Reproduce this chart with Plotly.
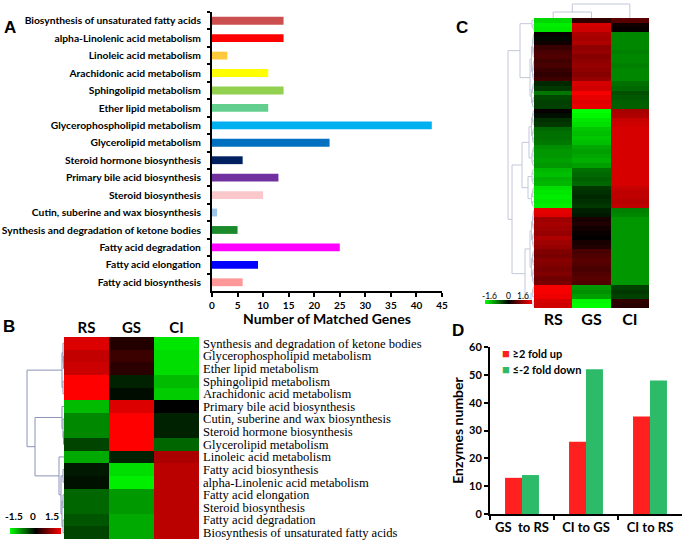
import plotly.graph_objects as go

W, H = 685, 543

# ---- panel A: matched genes per pathway (top to bottom)
a_pathways = [
    "Biosynthesis of unsaturated fatty acids", "alpha-Linolenic acid metabolism",
    "Linoleic acid metabolism", "Arachidonic acid metabolism", "Sphingolipid metabolism",
    "Ether lipid metabolism", "Glycerophospholipid metabolism", "Glycerolipid metabolism",
    "Steroid hormone biosynthesis", "Primary bile acid biosynthesis", "Steroid biosynthesis",
    "Cutin, suberine and wax biosynthesis", "Synthesis and degradation of ketone bodies",
    "Fatty acid degradation", "Fatty acid elongation", "Fatty acid biosynthesis",
]
a_genes = [14, 14, 3, 11, 14, 11, 43, 23, 6, 13, 10, 1, 5, 25, 9, 6]
a_colors = ["#CC4F4F", "#FF0000", "#FFC93C", "#FFFF00", "#92D050", "#62CF8E", "#00B0F0",
            "#0070C0", "#002060", "#7030A0", "#FAC8CB", "#9DC3E6", "#1A8A2A", "#FF00FF",
            "#0000FF", "#FF9999"]

# ---- panel B: pathway heatmap (RS, GS, CI)
b_pathways = [
    "Synthesis and degradation of ketone bodies", "Glycerophospholipid metabolism",
    "Ether lipid metabolism", "Sphingolipid metabolism", "Arachidonic acid metabolism",
    "Primary bile acid biosynthesis", "Cutin, suberine and wax biosynthesis",
    "Steroid hormone biosynthesis", "Glycerolipid metabolism", "Linoleic acid metabolism",
    "Fatty acid biosynthesis", "alpha-Linolenic acid metabolism", "Fatty acid elongation",
    "Steroid biosynthesis", "Fatty acid degradation", "Biosynthesis of unsaturated fatty acids",
]
samples = ["RS", "GS", "CI"]
b_rs = [1.3, 1.15, 1.2, 1.5, 1.5, -1.1, -0.8, -0.8, -0.4, -1.0, -0.15, -0.1, -0.6, -0.6, -0.5, -0.4]
b_gs = [0.2, 0.35, 0.25, -0.2, -0.07, 1.3, 1.5, 1.5, 1.5, -0.2, -1.3, -1.4, -0.9, -0.9, -1.0, -1.0]
b_ci = [-1.35, -1.3, -1.3, -1.1, -1.2, 0.0, -0.2, -0.2, -0.6, 1.0, 1.1, 1.1, 1.1, 1.1, 1.1, 1.1]
# dendrogram as nested [height, left, right], leaves are row indices
b_tree = [37, [2, [1, 0, [0.5, 1, 2]], [1, 3, 4]],
          [29, [2, 5, [1, 6, [0.5, 7, 8]]],
           [5, 9, [3, [1, 10, 11], [2, [1, 12, 13], [1, 14, 15]]]]]]

# ---- panel C: enzyme heatmap (64 rows)
c_rs = [-1.35, -1.5, -1.45, 0.05, -0.05, 0.1, 0.35, 0.45, 0.5, 0.4, 0.45, 0.35, 0.3, 0.4,
        -0.25, -0.35, -0.75, -0.45, -0.4, -0.4, 0.05, -0.1, -0.3, -0.35, -0.65, -0.7, -0.7,
        -0.75, -0.9, -0.95, -0.95, -1.0, -0.95, -1.15, -1.2, -1.1, -1.15, -1.4, -1.45, -1.5,
        -1.45, -1.5, 1.45, 1.4, 1.0, 1.05, 1.0, 0.95, 1.1, 1.0, 0.95, 0.8, 0.75, 0.85, 0.8,
        0.75, 0.8, 0.7, 0.75, 1.55, 1.55, 1.5, 1.35, 1.3]
c_gs = [0.3, 1.35, 1.3, 1.1, 1.05, 1.1, 0.9, 0.95, 0.85, 0.9, 0.95, 0.9, 0.85, 0.95, 1.35,
        1.3, 1.55, 1.45, 1.4, 1.45, -1.6, -1.55, -1.45, -1.4, -1.25, -1.2, -1.25, -1.2,
        -1.05, -1.0, -1.05, -1.1, -1.0, -0.7, -0.65, -0.6, -0.65, -0.35, -0.3, -0.25, -0.3,
        -0.35, -0.2, -0.15, 0.15, 0.2, 0.1, 0.05, 0.0, 0.15, 0.2, 0.45, 0.5, 0.55, 0.5,
        0.45, 0.5, 0.55, 0.5, -0.95, -0.9, -1.0, -1.55, -1.6]
c_ci = [0.55, 0.1, 0.05, -0.85, -0.85, -0.85, -0.85, -0.8, -0.85, -0.85, -0.8, -0.85,
        -0.85, -0.85, -0.7, -0.65, -0.5, -0.55, -0.6, -0.6, 1.05, 1.1, 1.25, 1.3, 1.35,
        1.35, 1.35, 1.35, 1.35, 1.35, 1.35, 1.35, 1.35, 1.35, 1.35, 1.35, 1.35, 1.25, 1.2,
        1.2, 1.15, 1.2, -0.8, -0.85, -0.95, -0.95, -0.95, -0.95, -0.95, -0.95, -0.95,
        -0.95, -0.95, -0.95, -0.95, -0.95, -0.95, -0.95, -0.95, -0.4, -0.35, -0.4, 0.3, 0.25]


def block(lo, hi, h):
    if lo == hi:
        return lo
    mid = (lo + hi) // 2
    return [h, block(lo, mid, h * 0.6), block(mid + 1, hi, h * 0.6)]


c_tree = [26,
          [14, [2, 0, [1, 1, 2]], [4, block(3, 13, 2.5), block(14, 19, 2.5)]],
          [22,
           [12, [5, block(20, 27, 2.5), block(28, 32, 2)], [6, block(33, 36, 2), block(37, 41, 2.5)]],
           [9, [4, block(42, 50, 2.5), block(51, 58, 2.5)], [3, block(59, 61, 1.5), block(62, 63, 1)]]]]
c_col_tree = [14, [6, 0, 1], 2]

# ---- panel D
d_groups = ["GS\u00a0 to RS", "CI to GS", "CI to RS"]
d_up = [13, 26, 35]
d_down = [14, 52, 48]
d_names = ["\u22652 fold up", "\u2264-2 fold down"]
d_colors = ["#FF2020", "#2DBB6A"]


def dendro(tree):
    pos, hts = [], []

    def walk(node):
        if isinstance(node, int):
            return float(node), 0.0
        h, left, right = node
        pl, hl = walk(left)
        pr, hr = walk(right)
        hts.extend([hl, h, h, hr, None])
        pos.extend([pl, pl, pr, pr, None])
        return (pl + pr) / 2, h

    walk(tree)
    return hts, pos


def px(x0, x1):
    return [x0 / W, x1 / W]


def py(top, bottom):
    return [1 - bottom / H, 1 - top / H]


SANS = "Lato, Arial, sans-serif"
SERIF = "Liberation Serif, Times New Roman, serif"
gr = [[0, "#00FF00"], [0.5, "#000000"], [1, "#FF0000"]]

fig = go.Figure()

# A
fig.add_trace(go.Bar(x=a_genes, y=a_pathways, orientation="h", marker_color=a_colors,
                     marker_line_width=0, width=0.45, xaxis="x", yaxis="y", showlegend=False))

# B heatmap + dendrogram
fig.add_trace(go.Heatmap(z=[list(r) for r in zip(b_rs, b_gs, b_ci)], x=[0, 1, 2],
                         y=list(range(len(b_pathways))), colorscale=gr, zmin=-1.5, zmax=1.5,
                         xaxis="x2", yaxis="y2",
                         colorbar=dict(orientation="h", x=35 / W, xanchor="center", y=1 - 534 / H,
                                       yanchor="bottom", lenmode="pixels", len=51,
                                       thicknessmode="pixels", thickness=6, outlinewidth=0,
                                       showticklabels=False, ticks="", xpad=0, ypad=0)))
bx, by = dendro(b_tree)
fig.add_trace(go.Scatter(x=bx, y=by, mode="lines", line=dict(color="#8C93B8", width=1),
                         xaxis="x3", yaxis="y3", showlegend=False, hoverinfo="skip"))

# C heatmap + dendrograms
fig.add_trace(go.Heatmap(z=[list(r) for r in zip(c_rs, c_gs, c_ci)], x=[0, 1, 2],
                         y=list(range(len(c_rs))), colorscale=gr, zmin=-1.6, zmax=1.6,
                         xaxis="x4", yaxis="y4",
                         colorbar=dict(orientation="h", x=508.5 / W, xanchor="center", y=1 - 304 / H,
                                       yanchor="bottom", lenmode="pixels", len=47,
                                       thicknessmode="pixels", thickness=4, outlinewidth=0,
                                       showticklabels=False, ticks="", xpad=0, ypad=0)))
cx, cy = dendro(c_tree)
fig.add_trace(go.Scatter(x=cx, y=cy, mode="lines", line=dict(color="#C3C8DA", width=1),
                         xaxis="x5", yaxis="y5", showlegend=False, hoverinfo="skip"))
tx, ty = dendro(c_col_tree)
fig.add_trace(go.Scatter(x=ty, y=tx, mode="lines", line=dict(color="#C3C8DA", width=1),
                         xaxis="x6", yaxis="y6", showlegend=False, hoverinfo="skip"))

# D
for vals, name, col in zip([d_up, d_down], d_names, d_colors):
    fig.add_trace(go.Bar(x=d_groups, y=vals, name=name, marker_color=col,
                         marker_line_width=0, xaxis="x7", yaxis="y7", showlegend=False))

hidden = dict(showgrid=False, zeroline=False, showticklabels=False, ticks="", showline=False)


def bold(s):
    return dict(family=SANS, size=s, color="black", weight="bold")


fig.update_layout(
    template="none",
    width=W, height=H, margin=dict(l=0, r=0, t=0, b=0, autoexpand=False),
    paper_bgcolor="white", plot_bgcolor="white",
    barmode="group", bargap=0.47, bargroupgap=0,
    xaxis=dict(domain=px(212, 442), range=[0, 45], dtick=5, showgrid=False, zeroline=False,
               showline=True, linecolor="black", linewidth=2, ticks="outside", ticklen=4,
               tickwidth=1.5, tickcolor="black", tickfont=bold(10), anchor="y"),
    yaxis=dict(domain=py(12, 291), autorange="reversed", showgrid=False, showline=True,
               linecolor="black", linewidth=2, ticks="outside", ticklen=3, tickwidth=1.5,
               tickcolor="black", tickson="boundaries", tickfont=bold(10.3),
               ticklabelstandoff=7, anchor="x"),
    xaxis2=dict(domain=px(64, 199), range=[-0.5, 2.5], side="top", tickvals=[0, 1, 2],
                ticktext=samples, tickfont=bold(15), showgrid=False, zeroline=False,
                ticks="", anchor="y2"),
    yaxis2=dict(domain=py(337, 539), range=[15.5, -0.5], side="right",
                tickvals=list(range(len(b_pathways))), ticktext=b_pathways,
                tickfont=dict(family=SERIF, size=12.6, color="black"), showgrid=False,
                zeroline=False, ticks="", ticklabelstandoff=3, anchor="x2"),
    xaxis3=dict(domain=px(20, 64), range=[44, 0], anchor="y3", **hidden),
    yaxis3=dict(domain=py(337, 539), range=[15.5, -0.5], anchor="x3", **hidden),
    xaxis4=dict(domain=px(534, 649), range=[-0.5, 2.5], tickvals=[0, 1, 2], ticktext=samples,
                tickfont=bold(16), showgrid=False, zeroline=False, ticks="", anchor="y4"),
    yaxis4=dict(domain=py(18, 308), range=[len(c_rs) - 0.5, -0.5], anchor="x4", **hidden),
    xaxis5=dict(domain=px(500, 534), range=[34, 0], anchor="y5", **hidden),
    yaxis5=dict(domain=py(18, 308), range=[len(c_rs) - 0.5, -0.5], anchor="x5", **hidden),
    xaxis6=dict(domain=px(534, 649), range=[-0.5, 2.5], anchor="y6", **hidden),
    yaxis6=dict(domain=py(3, 18), range=[0, 15], anchor="x6", **hidden),
    xaxis7=dict(domain=px(490, 682), showgrid=False, zeroline=False, showline=True,
                linecolor="black", linewidth=2, ticks="outside", ticklen=4, tickwidth=1.5,
                tickcolor="black", tickson="boundaries", tickfont=bold(13), tickangle=0,
                anchor="y7"),
    yaxis7=dict(domain=py(347, 514), range=[0, 60], dtick=10, showgrid=False, zeroline=False,
                showline=True, linecolor="black", linewidth=2, ticks="outside", ticklen=4,
                tickwidth=1.5, tickcolor="black", tickfont=bold(11), anchor="x7",
                title=dict(text="Enzymes number", font=bold(14), standoff=2)),
)


def note(text, x, y, font, xanchor="center"):
    fig.add_annotation(text=text, x=x / W, y=1 - y / H, xref="paper", yref="paper",
                       showarrow=False, font=font, xanchor=xanchor, borderpad=0)


for t, x, y in [("A", 10, 17), ("B", 9, 326), ("C", 462, 17), ("D", 458, 330)]:
    note(t, x, y, dict(family="Arial", size=17, color="black", weight="bold"))
note("Number of Matched Genes", 327, 318, bold(14))
for t, x in [("-1.5", 14), ("0", 33), ("1.5", 52)]:
    note(t, x, 523, bold(10))
for t, x in [("-1.6", 489), ("0", 508), ("1.6", 523)]:
    note(t, x, 296, dict(family=SANS, size=8.5, color="black"))
# legend of panel D
for name, col, y in zip(d_names, d_colors, [353, 378]):
    note(f"<span style='color:{col};font-size:13px'>\u25a0</span> {name}", 501, y, bold(11),
         xanchor="left")

fig.write_html("out.html", config={"displayModeBar": False},
               post_script="document.body.style.margin='0';")
